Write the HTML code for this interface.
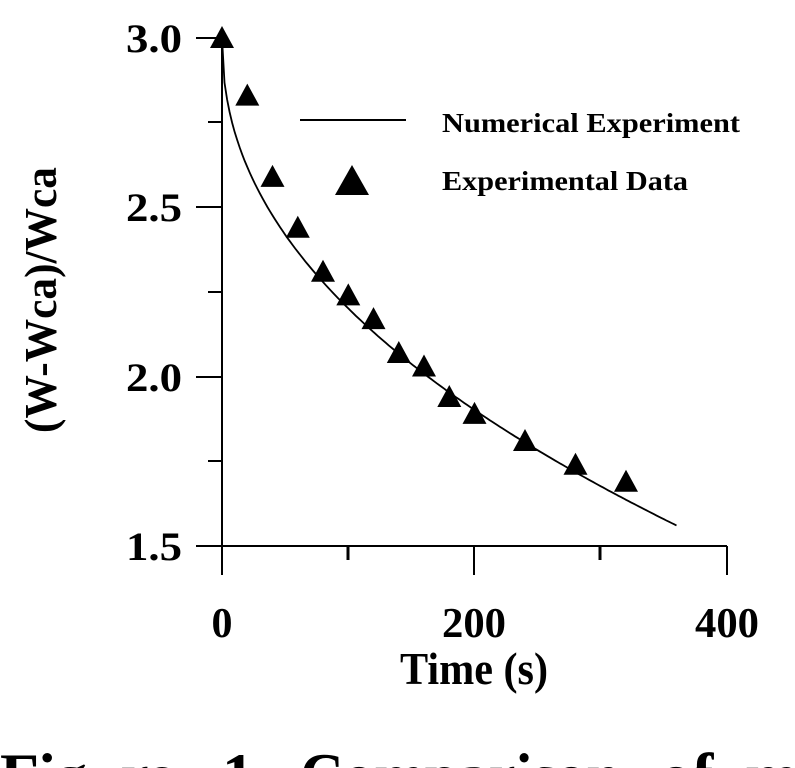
<!DOCTYPE html>
<html><head><meta charset="utf-8"><style>
html,body{margin:0;padding:0;background:#fff;width:795px;height:768px;overflow:hidden}
text{font-family:"Liberation Serif","Times New Roman",serif;font-weight:bold;fill:#000}
</style></head><body>
<svg width="795" height="768" viewBox="0 0 795 768" xmlns="http://www.w3.org/2000/svg" style="display:block">
<g stroke="#000" stroke-width="2" fill="none">
<line x1="222" y1="36" x2="222" y2="575"/>
<line x1="196" y1="546" x2="727" y2="546"/>
<line x1="196" y1="38" x2="222" y2="38"/>
<line x1="208" y1="122" x2="222" y2="122"/>
<line x1="196" y1="207" x2="222" y2="207"/>
<line x1="208" y1="292" x2="222" y2="292"/>
<line x1="196" y1="377" x2="222" y2="377"/>
<line x1="208" y1="461" x2="222" y2="461"/>
<line x1="474" y1="546" x2="474" y2="575"/>
<line x1="727" y1="546" x2="727" y2="575"/>
<line x1="348" y1="546" x2="348" y2="560" stroke-width="3"/>
<line x1="600" y1="546" x2="600" y2="560" stroke-width="3"/>
<line x1="300" y1="120" x2="406" y2="120"/>
<polyline id="c" stroke-width="1.8" points=""/>
</g>
<g fill="#000">
<polygon points="222,26 210,48 234,48"/>
<polygon points="247.3,83.6 235.3,105.6 259.3,105.6"/>
<polygon points="272.5,164.9 260.5,186.9 284.5,186.9"/>
<polygon points="297.8,215.7 285.8,237.7 309.8,237.7"/>
<polygon points="323,259.7 311,281.7 335,281.7"/>
<polygon points="348.3,283.4 336.3,305.4 360.3,305.4"/>
<polygon points="373.5,307.1 361.5,329.1 385.5,329.1"/>
<polygon points="398.8,341 386.8,363 410.8,363"/>
<polygon points="424,354.5 412,376.5 436,376.5"/>
<polygon points="449.3,385 437.3,407 461.3,407"/>
<polygon points="474.5,401.9 462.5,423.9 486.5,423.9"/>
<polygon points="525,429 513,451 537,451"/>
<polygon points="575.5,452.7 563.5,474.7 587.5,474.7"/>
<polygon points="626,469.7 614,491.7 638,491.7"/>
<polygon points="352,165 335,195 369,195"/>
</g>
<text x="442" y="132" font-size="27" textLength="298" lengthAdjust="spacingAndGlyphs">Numerical Experiment</text>
<text x="442" y="190" font-size="27" textLength="246" lengthAdjust="spacingAndGlyphs">Experimental Data</text>
<g font-size="40" text-anchor="end">
<text x="182" y="52" textLength="56" lengthAdjust="spacingAndGlyphs">3.0</text>
<text x="182" y="221" textLength="56" lengthAdjust="spacingAndGlyphs">2.5</text>
<text x="182" y="391" textLength="56" lengthAdjust="spacingAndGlyphs">2.0</text>
<text x="182" y="560" textLength="56" lengthAdjust="spacingAndGlyphs">1.5</text>
</g>
<g font-size="42" text-anchor="middle">
<text x="222" y="637">0</text>
<text x="474" y="637" textLength="64" lengthAdjust="spacingAndGlyphs">200</text>
<text x="727" y="637" textLength="64" lengthAdjust="spacingAndGlyphs">400</text>
<text x="474" y="684" font-size="46" textLength="148" lengthAdjust="spacingAndGlyphs">Time (s)</text>
</g>
<text transform="translate(56,300) rotate(-90)" font-size="46" text-anchor="middle" textLength="266" lengthAdjust="spacingAndGlyphs">(W-Wca)/Wca</text>
<g font-size="64">
<text x="0" y="797" textLength="175" lengthAdjust="spacing">Figure</text>
<text x="222" y="797">1</text>
<text x="300" y="797" textLength="320" lengthAdjust="spacingAndGlyphs">Comparison</text>
<text x="660" y="797">of</text>
<text x="745" y="797">mod</text>
</g>
<script>
var X=function(t){return 222+t*1.2625}, Y=function(v){return 38+(3-v)*338.67};
var p=[];for(var t=0;t<=360;t+=2){p.push(X(t).toFixed(1)+","+Y(3-0.096*Math.pow(t,0.46)).toFixed(1));}
document.getElementById('c').setAttribute('points',p.join(' '));
</script>
</svg>
</body></html>
